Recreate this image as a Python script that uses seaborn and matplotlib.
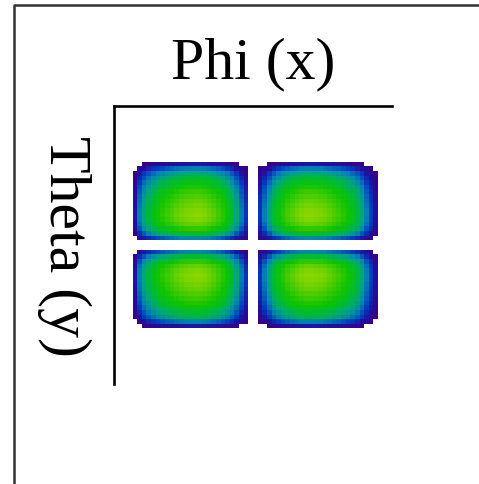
import numpy as np
import matplotlib
matplotlib.use("Agg")
import matplotlib.pyplot as plt
from matplotlib.colors import LinearSegmentedColormap
from matplotlib.lines import Line2D
import seaborn as sns

# profile along phi (60 columns over the axes)
phi_left = [0.22, 0.40, 0.52, 0.61, 0.69, 0.75, 0.80, 0.85, 0.89, 0.93, 0.96, 0.98, 0.99,
            1.00, 1.00, 0.98, 0.95, 0.91, 0.86, 0.80, 0.72, 0.63, 0.52, 0.40, 0.28]
phi_right = [0.28, 0.40, 0.52, 0.63, 0.72, 0.80, 0.86, 0.91, 0.95, 0.98, 1.00, 1.00, 0.99,
             0.98, 0.96, 0.93, 0.89, 0.85, 0.80, 0.75, 0.69, 0.61, 0.52, 0.40, 0.30, 0.20]
phi_profile = [0.0] * 4 + phi_left + [0.0, 0.0] + phi_right + [0.0] * 3

# profile along theta (60 rows over the axes)
theta_top = [0.22, 0.40, 0.54, 0.63, 0.71, 0.78, 0.84, 0.89, 0.93, 0.96, 0.99, 1.00,
             0.98, 0.93, 0.82, 0.65, 0.42]
theta_profile = [0.0] * 12 + theta_top + [0.0, 0.0] + theta_top[::-1] + [0.0] * 12

threshold = 0.10
cmap_colors = [(0.00, "#3c0080"), (0.12, "#2010a0"), (0.22, "#0040c0"), (0.34, "#0085b0"),
               (0.46, "#00a878"), (0.58, "#00bb30"), (0.72, "#10c400"), (0.86, "#48cc00"),
               (1.00, "#88d600")]

field = np.outer(theta_profile, phi_profile)

sns.set_style("white")
plt.rcParams["font.family"] = ["Liberation Serif", "DejaVu Serif"]
plt.rcParams["text.color"] = "black"
plt.rcParams["axes.labelcolor"] = "black"

fig = plt.figure(figsize=(4.79, 4.85), dpi=100)
ax = fig.add_axes([114 / 479, 1 - 385 / 485, 278 / 479, 278 / 485])

cmap = LinearSegmentedColormap.from_list("lobes", cmap_colors)
sns.heatmap(field, mask=field < threshold, cmap=cmap, vmin=threshold, vmax=1.0,
            cbar=False, xticklabels=False, yticklabels=False, ax=ax)

for side in ["top", "left"]:
    ax.spines[side].set_visible(True)
    ax.spines[side].set_color("black")
    ax.spines[side].set_linewidth(1.9)
for side in ["bottom", "right"]:
    ax.spines[side].set_visible(False)

ax.xaxis.set_label_position("top")
ax.set_xlabel("Phi (x)", fontsize=43, va="baseline")
ax.xaxis.set_label_coords(0.5, 1 + 29 / 278)
ax.set_ylabel("Theta (y)", fontsize=43, rotation=-90, va="center", ha="center")
ax.yaxis.set_label_coords(-50 / 278, 0.5)

# outer frame edges (left and top)
fig.add_artist(Line2D([14 / 479, 14 / 479, 1.0], [0.0, 1 - 6 / 485, 1 - 6 / 485],
                      transform=fig.transFigure, color="#333333", lw=1.8))

fig.savefig("out.png", dpi=100)
